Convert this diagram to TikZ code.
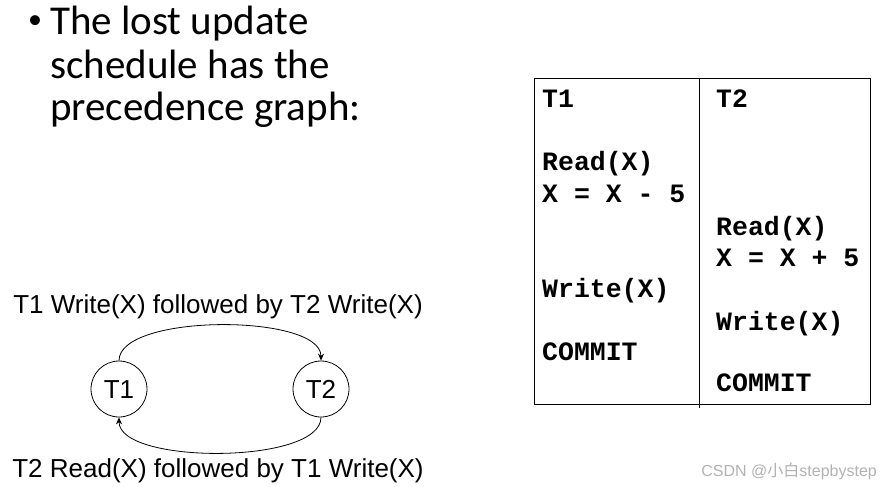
\documentclass[tikz,border=0pt]{standalone}
\usepackage{fontspec}
\setmainfont{Liberation Sans}
\newfontfamily\slidefont{Carlito}
\newfontfamily\codefont{Liberation Mono}
\newfontfamily\cjkfont{Noto Sans CJK SC}
\usetikzlibrary{arrows.meta}

\tikzset{
    txn/.style={draw, circle, thick, minimum size=56pt, inner sep=0pt, text height=18pt, text depth=0pt, font=\fontsize{26}{30}\selectfont},
    edgelbl/.style={font=\fontsize{26}{30}\selectfont},
    codeline/.style={anchor=base west, inner sep=0pt, font=\codefont\bfseries\fontsize{26.5}{30}\selectfont},
    slideline/.style={anchor=base west, inner sep=0pt, font=\slidefont\fontsize{41}{43}\selectfont}
}

\begin{document}
\begin{tikzpicture}[x=1pt,y=-1pt]
            \useasboundingbox[fill=white] (0,0) rectangle (881,487);

            % heading
            \node[inner sep=0pt, font=\slidefont\fontsize{28}{30}\selectfont] (dot) at (35,22) {•};
            \node[slideline] (h1) at (50,35) {The lost update};
            \node[slideline] (h2) at (50,78) {schedule has the};
            \node[slideline] (h3) at (50,121) {precedence graph:};

            % precedence graph
            \node[txn] (t1) at (119,389) {T1};
            \node[txn] (t2) at (321,389) {T2};
            \draw[thick, -{Stealth[length=7pt,width=6pt]}] (t1.north) to[out=90, in=90, looseness=0.6] (t2.north);
            \draw[thick, -{Stealth[length=7pt,width=6pt]}] (t2.south) to[out=-90, in=-90, looseness=0.6] (t1.south);
            \node[edgelbl, anchor=base] (wlbl) at (218,313) {T1 Write(X) followed by T2 Write(X)};
            \node[edgelbl, anchor=base] (rlbl) at (218,477) {T2 Read(X) followed by T1 Write(X)};

            % schedule table
            \draw[thick] (534,78) rectangle (870,404);
            \draw[thick] (699,78) -- (699,408);

            \node[codeline] (a0) at (542,107) {T1};
            \node[codeline] (a1) at (542,170) {Read(X)};
            \node[codeline] (a2) at (542,202) {X = X - 5};
            \node[codeline] (a3) at (542,297) {Write(X)};
            \node[codeline] (a4) at (542,360) {COMMIT};

            \node[codeline] (b0) at (716,107) {T2};
            \node[codeline] (b1) at (716,235) {Read(X)};
            \node[codeline] (b2) at (716,266) {X = X + 5};
            \node[codeline] (b3) at (716,330) {Write(X)};
            \node[codeline] (b4) at (716,391) {COMMIT};

            % watermark
            \node[anchor=base east, inner sep=0pt, text=black!30, font=\fontsize{16}{18}\selectfont] (wm) at (877,476) {CSDN @{\cjkfont 小白}stepbystep};
        \end{tikzpicture}
\end{document}
